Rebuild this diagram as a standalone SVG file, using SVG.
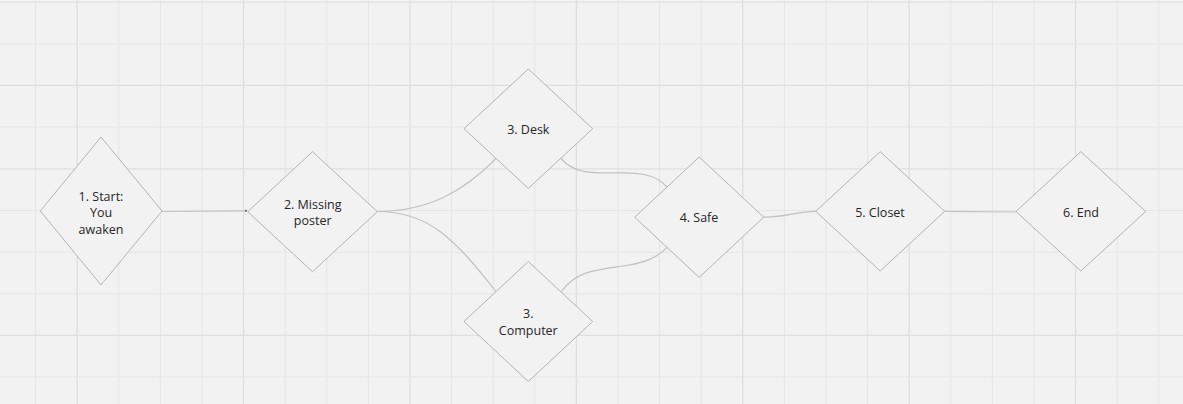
<svg xmlns="http://www.w3.org/2000/svg" width="1183" height="404" viewBox="0 0 1183 404">
<defs>
<style>
.g{stroke:#e5e5e5;stroke-width:1}
.gm{stroke:#dfdfdf;stroke-width:1.3}
.n{fill:#f2f2f2;stroke:#b4b4b4;stroke-width:1}
.t{font-family:"Open Sans","Noto Sans","Liberation Sans",sans-serif;font-size:12.5px;fill:#262626;text-anchor:middle}
.c{fill:none;stroke:#c2c2c2;stroke-width:1.2}
</style>
<marker id="dot" viewBox="0 0 4 4" refX="2" refY="2" markerWidth="4" markerHeight="4" markerUnits="userSpaceOnUse"><circle cx="2" cy="2" r="1" fill="#555"/></marker>
</defs>
<rect width="1183" height="404" fill="#f2f2f2"/>
<g id="grid">
<path class="g" d="M35.6 0V404M118.8 0V404M160.4 0V404M202 0V404M285.2 0V404M326.8 0V404M368.4 0V404M451.6 0V404M493.2 0V404M534.8 0V404M618 0V404M659.6 0V404M701.2 0V404M784.4 0V404M826 0V404M867.6 0V404M950.8 0V404M992.4 0V404M1034 0V404M1117.2 0V404M1158.8 0V404"/>
<path class="gm" d="M77.2 0V404M243.6 0V404M410 0V404M576.4 0V404M742.8 0V404M909.2 0V404M1075.6 0V404"/>
<path class="g" d="M0 43.8H1183M0 127H1183M0 210.6H1183M0 252.2H1183M0 293.8H1183M0 377H1183"/>
<path class="gm" d="M0 2.2H1183M0 85.4H1183M0 168.8H1183M0 335.4H1183"/>
</g>
<g id="connectors">
<path class="c" d="M162 211.5 L246 210.8" marker-end="url(#dot)"/>
<path class="c" d="M377.3 211.5 C430 211.5 465 190 496 158.5"/>
<path class="c" d="M377.3 211.5 C430 211.5 455 240 496 291.5"/>
<path class="c" d="M561 158.5 C575 175 595 173 620 172.8 C645 172.6 657 176 667 187"/>
<path class="c" d="M561.5 291.5 C575 272 595 270 620 266.5 C645 263 657 258 667 247.3"/>
<path class="c" d="M763.7 217.2 C790 217 795 211.3 815.7 211.3"/>
<path class="c" d="M944.7 211.3 L1016 212"/>
</g>
<g id="n1">
<polygon class="n" points="101,137 162,211 101,285 40.3,211"/>
<text class="t" x="101" y="200.5">1. Start:</text>
<text class="t" x="101" y="217.2">You</text>
<text class="t" x="101" y="233.8">awaken</text>
</g>
<g id="n2">
<polygon class="n" points="312.5,151.7 377.3,211.7 312.5,271.7 247.7,211.7"/>
<text class="t" x="312.7" y="208.5">2. Missing</text>
<text class="t" x="312.7" y="225.2">poster</text>
</g>
<g id="n3a">
<polygon class="n" points="528.3,69 592.7,128.7 528.3,188.4 464,128.7"/>
<text class="t" x="528.3" y="133.8">3. Desk</text>
</g>
<g id="n3b">
<polygon class="n" points="528.3,261.5 592.7,321.5 528.3,381.5 464,321.5"/>
<text class="t" x="528.3" y="317.8">3.</text>
<text class="t" x="528.3" y="335.2">Computer</text>
</g>
<g id="n4">
<polygon class="n" points="699.2,157 763.7,217.2 699.2,277.4 634.7,217.2"/>
<text class="t" x="699" y="221.8">4. Safe</text>
</g>
<g id="n5">
<polygon class="n" points="880.2,151.7 944.7,211.3 880.2,271 815.7,211.3"/>
<text class="t" x="880" y="216.8">5. Closet</text>
</g>
<g id="n6">
<polygon class="n" points="1080.8,151.7 1145.7,211.5 1080.8,271 1016,211.5"/>
<text class="t" x="1081" y="216.5">6. End</text>
</g>
</svg>
